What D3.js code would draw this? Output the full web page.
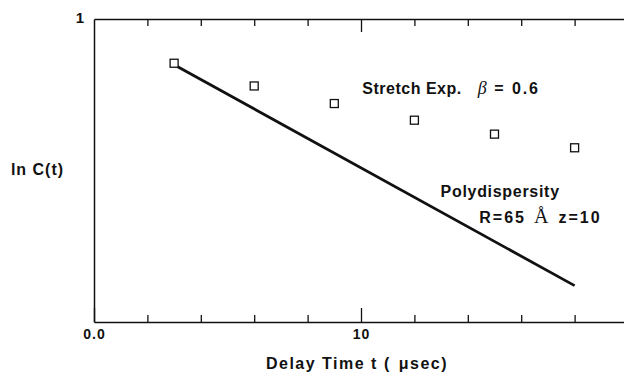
<!DOCTYPE html>
<html>
<head>
<meta charset="utf-8">
<script src="https://cdn.jsdelivr.net/npm/d3@7"></script>
<style>
    body { margin: 0; background: #fff; }
    text { font-family: "Liberation Sans", Arial, sans-serif; font-weight: bold; fill: #111; }
</style>
</head>
<body>
<div id="chart"></div>
<script>
// delay times (usec) of the measured points
const delayTimes = [3, 6, 9, 12, 15, 18];
// ln C(t) (top of the frame is ln C = 0, i.e. C = 1)
const stretchValues = [-0.146, -0.221, -0.279, -0.334, -0.380, -0.425];
// polydispersity curve, a straight line in ln C vs t
const polyTimes = [3, 18];
const polyValues = [-0.151, -0.880];
const minorTicks = [2, 4, 6, 8, 12, 14, 16, 18];
const majorTicks = [10];

const width = 624;
const height = 373;
const margin = { top: 19, right: 0, bottom: 51, left: 94 };

const svg = d3.select("#chart").append("svg")
    .attr("width", width)
    .attr("height", height);

const x = d3.scaleLinear()
    .domain([0, 19.85])
    .range([margin.left, width - margin.right]);

const y = d3.scaleLinear()
    .domain([-1, 0])
    .range([height - margin.bottom, margin.top]);

const axisColor = "#111";

function styleAxis(g) {
    g.selectAll("path").attr("stroke", axisColor).attr("stroke-width", 1.5);
    g.selectAll("line").attr("stroke", axisColor).attr("stroke-width", 1.3);
    g.selectAll("text")
        .attr("font-family", "Liberation Sans, Arial, sans-serif")
        .attr("font-weight", "bold")
        .attr("font-size", 14)
        .attr("letter-spacing", 1)
        .attr("fill", "#111");
}

// bottom axis
const bottomAxis = svg.append("g")
    .attr("transform", `translate(0,${y(-1)})`);
bottomAxis.append("g")
    .call(d3.axisBottom(x).tickValues(minorTicks).tickSize(-7).tickSizeOuter(0).tickFormat(""))
    .call(styleAxis);
bottomAxis.append("g")
    .call(d3.axisBottom(x).tickValues([0, ...majorTicks]).tickSize(-14).tickSizeOuter(0).tickPadding(7)
        .tickFormat(d => d === 0 ? "0.0" : d))
    .call(styleAxis)
    .call(g => g.select(".domain").remove());

// top axis
const topAxis = svg.append("g")
    .attr("transform", `translate(0,${y(0)})`);
topAxis.append("g")
    .call(d3.axisTop(x).tickValues(minorTicks).tickSize(-7).tickSizeOuter(0).tickFormat(""))
    .call(styleAxis);
topAxis.append("g")
    .call(d3.axisTop(x).tickValues(majorTicks).tickSize(-13).tickSizeOuter(0).tickFormat(""))
    .call(styleAxis)
    .call(g => g.select(".domain").remove());

// left axis, only the "1" at the top
svg.append("g")
    .attr("transform", `translate(${x(0)},0)`)
    .call(d3.axisLeft(y).tickValues([0]).tickSize(0).tickSizeOuter(0).tickPadding(9)
        .tickFormat(d => Math.exp(d)))
    .call(styleAxis)
    .call(g => g.selectAll("text").attr("font-size", 15).attr("dy", "0.25em"));

// polydispersity line
const line = d3.line()
    .x((d, i) => x(polyTimes[i]))
    .y(d => y(d));

svg.append("path")
    .datum(polyValues)
    .attr("fill", "none")
    .attr("stroke", "#111")
    .attr("stroke-width", 2.8)
    .attr("d", line);

// stretched exponential points
const size = 8;
svg.append("g")
    .selectAll("rect")
    .data(delayTimes)
    .join("rect")
    .attr("x", d => x(d) - size / 2)
    .attr("y", (d, i) => y(stretchValues[i]) - size / 2)
    .attr("width", size)
    .attr("height", size)
    .attr("fill", "#fff")
    .attr("stroke", "#111")
    .attr("stroke-width", 1.3);

// annotations
const stretchLabel = svg.append("text")
    .attr("x", x(10.05))
    .attr("y", y(-0.247))
    .attr("font-size", 16)
    .attr("letter-spacing", 0.5);
stretchLabel.append("tspan").text("Stretch Exp.");
stretchLabel.append("tspan")
    .attr("dx", 16)
    .attr("font-family", "Liberation Serif, serif")
    .attr("font-style", "italic")
    .attr("font-weight", "normal")
    .attr("font-size", 18)
    .text("β");
stretchLabel.append("tspan").attr("dx", 7).text("=");
stretchLabel.append("tspan").attr("dx", 8).attr("letter-spacing", 1.8).text("0.6");

svg.append("text")
    .attr("x", x(12.98))
    .attr("y", y(-0.588))
    .attr("font-size", 16)
    .attr("letter-spacing", 0.7)
    .text("Polydispersity");

const rLabel = svg.append("text")
    .attr("x", x(14.43))
    .attr("y", y(-0.674))
    .attr("font-size", 16)
    .attr("letter-spacing", 2);
rLabel.append("tspan").text("R=65");
rLabel.append("tspan")
    .attr("dx", 8)
    .attr("font-family", "Liberation Serif, serif")
    .attr("font-weight", "normal")
    .attr("font-size", 20)
    .attr("letter-spacing", 0)
    .text("Å");
rLabel.append("tspan").attr("dx", 10).text("z=10");

// axis titles
const xTitle = svg.append("text")
    .attr("x", (x(0) + width) / 2 - 2)
    .attr("y", 369)
    .attr("text-anchor", "middle")
    .attr("font-size", 16)
    .attr("letter-spacing", 1.5);
xTitle.append("tspan").text("Delay Time t (");
xTitle.append("tspan").attr("dx", 8).text("μsec)");

svg.append("text")
    .attr("x", 37.5)
    .attr("y", 175)
    .attr("text-anchor", "middle")
    .attr("font-size", 16)
    .attr("letter-spacing", 1)
    .text("ln C(t)");
</script>
</body>
</html>
